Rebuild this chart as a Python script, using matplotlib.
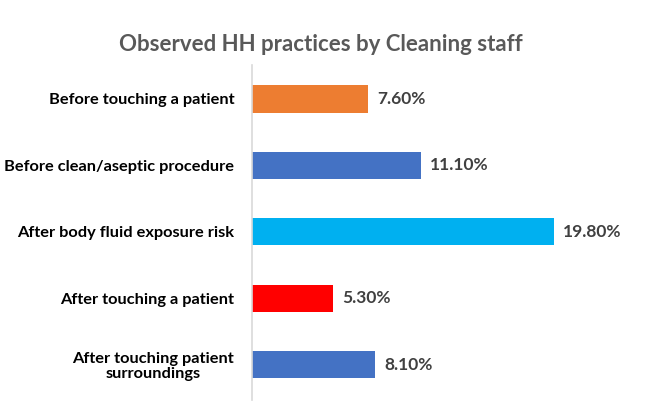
import matplotlib
matplotlib.use('Agg')
import matplotlib.pyplot as plt

# Data
categories = ['Before touching a patient', 'Before clean/aseptic procedure',
              'After body fluid exposure risk', 'After touching a patient',
              'After touching patient\nsurroundings']
values = [7.6, 11.1, 19.8, 5.3, 8.1]
colors = ['#ED7D31', '#4472C4', '#00B0F0', '#FF0000', '#4472C4']

plt.rcParams['font.family'] = ['Lato', 'DejaVu Sans']

fig = plt.figure(figsize=(6.5, 4.17), dpi=100)
ax = fig.add_axes([0.388, 0.041, 0.562, 0.803])

ypos = list(range(len(categories)))[::-1]
ax.barh(ypos, values, height=0.41, color=colors)

for y, v in zip(ypos, values):
    ax.text(v + 0.6, y, f'{v:.2f}%', va='center', ha='left',
            fontsize=12.5, fontweight='bold', color='#404040')

ax.set_yticks(ypos)
labels = ax.set_yticklabels(categories, fontsize=11.8, fontweight='bold', color='black',
                            linespacing=1.1)
for lbl in labels:
    lbl.set_multialignment('center')
ax.tick_params(axis='y', length=0, pad=13)
ax.set_xticks([])
ax.set_xlim(0, 24)
ax.set_ylim(-0.53, 4.51)

for s in ['top', 'right', 'bottom']:
    ax.spines[s].set_visible(False)
ax.spines['left'].set_color('#D9D9D9')
ax.spines['left'].set_linewidth(1.2)

fig.text(0.493, 0.893, 'Observed HH practices by Cleaning staff', ha='center', va='center',
         fontsize=16, fontweight='bold', color='#595959')

fig.savefig('out.png', dpi=100)
